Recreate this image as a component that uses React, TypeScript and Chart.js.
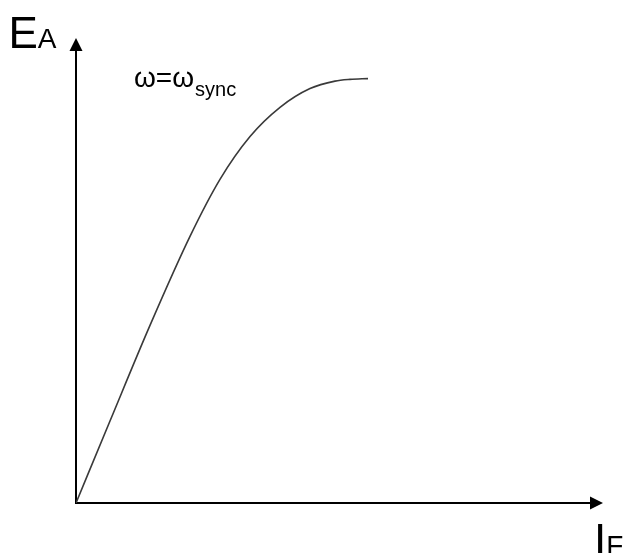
import React, { useEffect, useRef } from "react";
import { Chart, registerables } from "chart.js";

Chart.register(...registerables);

// Field current I_F (relative units) and generated voltage E_A (relative units)
const fieldCurrent = [0, 6.45, 14.04, 21.63, 27.32, 33.02, 38.71, 44.4, 49.15, 51.99, 55.41];
const armatureVoltage = [0, 17.63, 38.19, 57.33, 69.59, 78.8, 85.08, 89.12, 90.73, 91.1, 91.27];

const yLabelMain = "E";
const yLabelSub = "A";
const xLabelMain = "I";
const xLabelSub = "F";
const curveLabelMain = "ω=ω";
const curveLabelSub = "sync";

const FONT = "'Liberation Sans', Arial, sans-serif";

const decorPlugin = {
  id: "decor",
  beforeDatasetsDraw(chart: any) {
    const ctx = chart.ctx as CanvasRenderingContext2D;
    const xs = chart.scales.x;
    const ys = chart.scales.y;
    const x0 = xs.getPixelForValue(0);
    const y0 = ys.getPixelForValue(0);
    const top = chart.chartArea.top;
    const right = chart.chartArea.right;
    ctx.save();
    ctx.strokeStyle = "#000";
    ctx.fillStyle = "#000";
    ctx.lineWidth = 2;
    // y axis
    ctx.beginPath();
    ctx.moveTo(x0, y0 + 1);
    ctx.lineTo(x0, top + 10);
    ctx.stroke();
    ctx.beginPath();
    ctx.moveTo(x0, top);
    ctx.lineTo(x0 - 6.5, top + 13);
    ctx.lineTo(x0 + 6.5, top + 13);
    ctx.closePath();
    ctx.fill();
    // x axis
    ctx.beginPath();
    ctx.moveTo(x0 - 1, y0);
    ctx.lineTo(right - 10, y0);
    ctx.stroke();
    ctx.beginPath();
    ctx.moveTo(right, y0);
    ctx.lineTo(right - 13, y0 - 6.5);
    ctx.lineTo(right - 13, y0 + 6.5);
    ctx.closePath();
    ctx.fill();

    // labels
    ctx.textBaseline = "alphabetic";
    ctx.textAlign = "left";
    ctx.font = `44px ${FONT}`;
    ctx.fillText(yLabelMain, 8.5, 48);
    let w = ctx.measureText(yLabelMain).width;
    ctx.font = `28px ${FONT}`;
    ctx.fillText(yLabelSub, 8.5 + w, 48);

    ctx.font = `44px ${FONT}`;
    ctx.fillText(xLabelMain, 594, 555);
    w = ctx.measureText(xLabelMain).width;
    ctx.font = `28px ${FONT}`;
    ctx.fillText(xLabelSub, 594 + w, 555);

    ctx.font = `28px ${FONT}`;
    ctx.fillText(curveLabelMain, 134, 87);
    w = ctx.measureText(curveLabelMain).width;
    ctx.font = `20px ${FONT}`;
    ctx.fillText(curveLabelSub, 134 + w + 1, 96);
    ctx.restore();
  },
};

export default function App() {
  const ref = useRef<HTMLCanvasElement | null>(null);
  useEffect(() => {
    if (!ref.current) return;
    const chart = new Chart(ref.current, {
      type: "line",
      data: {
        datasets: [
          {
            data: fieldCurrent.map((x, i) => ({ x, y: armatureVoltage[i] })),
            borderColor: "#3a3a3a",
            borderWidth: 1.6,
            pointRadius: 0,
            fill: false,
            cubicInterpolationMode: "monotone",
          },
        ],
      },
      options: {
        animation: false,
        responsive: true,
        maintainAspectRatio: false,
        layout: { padding: { left: 76, right: 21, top: 38, bottom: 50 } },
        plugins: { legend: { display: false }, tooltip: { enabled: false } },
        scales: {
          x: { type: "linear", min: 0, max: 100, display: false },
          y: { type: "linear", min: 0, max: 100, display: false },
        },
      },
      plugins: [decorPlugin],
    });
    return () => chart.destroy();
  }, []);
  return (
    <div
      style={{
        position: "fixed",
        left: 0,
        top: 0,
        width: 624,
        height: 553,
        background: "#fff",
      }}
    >
      <canvas ref={ref} />
    </div>
  );
}
